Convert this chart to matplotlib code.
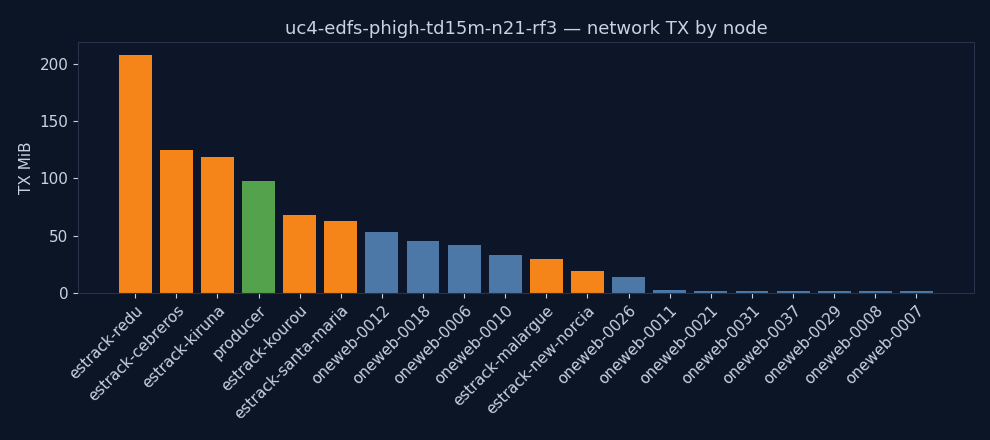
import matplotlib
matplotlib.use("Agg")
import matplotlib.pyplot as plt

nodes = ["estrack-redu","estrack-cebreros","estrack-kiruna","producer","estrack-kourou",
         "estrack-santa-maria","oneweb-0012","oneweb-0018","oneweb-0006","oneweb-0010",
         "estrack-malargue","estrack-new-norcia","oneweb-0026","oneweb-0011","oneweb-0021",
         "oneweb-0031","oneweb-0037","oneweb-0029","oneweb-0008","oneweb-0007"]
tx_mib = [208,125,119,98,68,63,53,45,42,33,30,19,14,2.6,1.6,1.6,1.6,1.6,1.6,1.6]

def color(n):
    if n.startswith("estrack"): return "#f58518"
    if n == "producer": return "#54a24b"
    return "#4c78a8"

bg = "#0b1526"
fig = plt.figure(figsize=(9.9,4.4), dpi=100, facecolor=bg)
ax = fig.add_axes([78/990, 1-293/440, (974-78)/990, (293-42)/440])
ax.set_facecolor("#0d1628")
x = range(len(nodes))
ax.bar(x, tx_mib, width=0.8, color=[color(n) for n in nodes])
ax.set_xlim(-1.39, 20.4)
ax.set_ylim(0, 219)
ax.set_xticks(list(x))
ax.set_xticklabels(nodes, rotation=45, ha="right", rotation_mode="anchor")
ax.set_yticks([0,50,100,150,200])
txt = "#c8d3e0"
ax.tick_params(colors=txt, labelsize=11)
for s in ax.spines.values():
    s.set_color("#25324a")
ax.set_ylabel("TX MiB", color=txt, fontsize=11)
ax.set_title("uc4-edfs-phigh-td15m-n21-rf3 — network TX by node", color=txt, fontsize=13)
fig.savefig("out.png", dpi=100, facecolor=bg)
